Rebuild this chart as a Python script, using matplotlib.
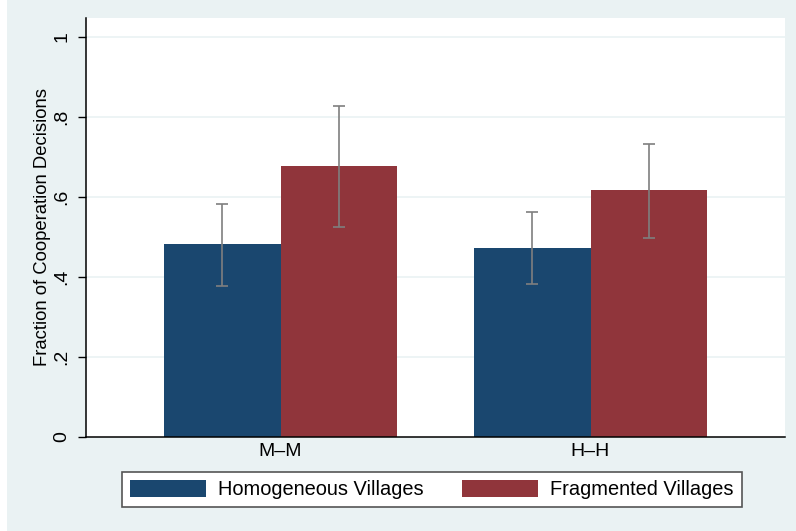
import matplotlib
matplotlib.use("Agg")
import matplotlib.pyplot as plt
import numpy as np

groups = ["M\u2013M", "H\u2013H"]
homog = [0.482, 0.473]
homog_lo = [0.378, 0.383]
homog_hi = [0.582, 0.562]
frag = [0.677, 0.617]
frag_lo = [0.525, 0.498]
frag_hi = [0.828, 0.732]

plt.rcParams['font.family'] = ['Liberation Sans', 'DejaVu Sans']

bg = "#EAF2F3"
blue = "#1A476F"
red = "#90353B"
errc = "#7F7F7F"

fig = plt.figure(figsize=(7.96, 5.31), dpi=100, facecolor=bg)
fig.patches.append(plt.Rectangle((0, 0), 7 / 796, 1, transform=fig.transFigure,
                                 facecolor="white", edgecolor="none", zorder=0))
ax = fig.add_axes([86 / 796, 1 - 437 / 531, (785 - 86) / 796, (437 - 18) / 531])
ax.set_facecolor("white")

x = np.arange(len(groups))
w = 116.5 / 310
homog = np.array(homog)
frag = np.array(frag)
ax.bar(x - w / 2, homog, w, color=blue, label="Homogeneous Villages", zorder=2)
ax.bar(x + w / 2, frag, w, color=red, label="Fragmented Villages", zorder=2)
ax.errorbar(x - w / 2, homog, yerr=[homog - np.array(homog_lo), np.array(homog_hi) - homog],
            fmt="none", ecolor=errc, elinewidth=1.2, capsize=4, capthick=1.2, zorder=3)
ax.errorbar(x + w / 2, frag, yerr=[frag - np.array(frag_lo), np.array(frag_hi) - frag],
            fmt="none", ecolor=errc, elinewidth=1.2, capsize=4, capthick=1.2, zorder=3)

ax.set_xlim(-(280.5 - 86) / 310, 1 + (785 - 590.5) / 310)
ax.set_ylim(0, (437 - 18) / 400)
yt = [0, 0.2, 0.4, 0.6, 0.8, 1.0]
ax.set_yticks(yt)
ax.set_yticklabels(["0", ".2", ".4", ".6", ".8", "1"], rotation=90, va="center", fontsize=14)
ax.set_xticks(x)
ax.set_xticklabels(groups, fontsize=14)
ax.tick_params(axis="x", length=0, pad=4)
ax.tick_params(axis="y", length=6, width=1, pad=5)
for v in yt[1:]:
    ax.axhline(v, color=bg, lw=1.2, zorder=1)
ax.set_ylabel("Fraction of Cooperation Decisions", fontsize=13.3, labelpad=2)

for s in ["top", "right"]:
    ax.spines[s].set_visible(False)
ax.spines["left"].set_linewidth(1.1)
ax.spines["bottom"].set_linewidth(1.1)

leg = fig.legend(loc="center", bbox_to_anchor=(432 / 796, 1 - 489.5 / 531), ncol=2,
                 fontsize=14.4, frameon=True, fancybox=False, handlelength=3.8,
                 handleheight=0.95, handletextpad=0.6, columnspacing=1.9,
                 borderpad=0.4)
leg.get_frame().set_edgecolor("#555555")
leg.get_frame().set_linewidth(1.2)
leg.get_frame().set_facecolor("white")
leg.get_frame().set_alpha(1)

fig.savefig("out.png", dpi=100, facecolor=bg)
